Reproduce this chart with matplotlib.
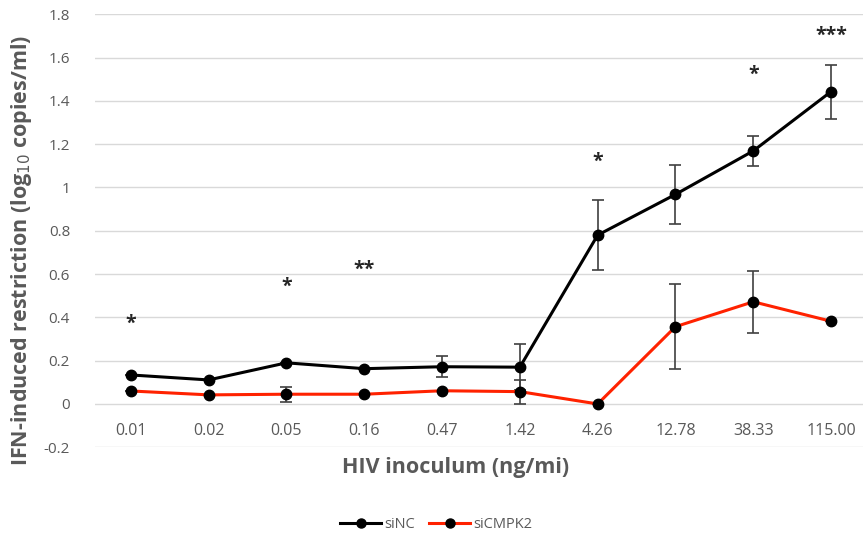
import matplotlib
matplotlib.use("Agg")
import matplotlib.pyplot as plt
from matplotlib.lines import Line2D

plt.rcParams['font.family'] = ['Open Sans', 'DejaVu Sans']

# HIV inoculum categories (ng/ml)
doses = ["0.01", "0.02", "0.05", "0.16", "0.47", "1.42", "4.26", "12.78", "38.33", "115.00"]

# IFN-induced restriction, log10 copies/ml
sinc_mean = [0.134, 0.111, 0.19, 0.163, 0.172, 0.17, 0.78, 0.968, 1.169, 1.443]
sinc_err = [0.0, 0.0, 0.0, 0.0, 0.048, 0.107, 0.163, 0.137, 0.07, 0.125]
sicmpk2_mean = [0.06, 0.042, 0.045, 0.045, 0.061, 0.057, 0.0, 0.357, 0.472, 0.382]
sicmpk2_err = [0.0, 0.0, 0.035, 0.0, 0.0, 0.055, 0.0, 0.197, 0.142, 0.0]

# significance marks and their heights
sig_idx = [0, 2, 3, 6, 8, 9]
sig_txt = ["*", "*", "**", "*", "*", "***"]
sig_y = [0.37, 0.54, 0.62, 1.12, 1.52, 1.70]

fig = plt.figure(figsize=(8.63, 5.39), dpi=100)
ax = fig.add_axes([95 / 863, 0.1702, 1 - 95 / 863, 0.8033])

x = list(range(len(doses)))
grid_c = "#d9d9d9"
txt_c = "#595959"

ax.set_ylim(-0.2, 1.8)
ax.set_xlim(-0.46, 9.41)
ax.set_yticks([-0.2, 0, 0.2, 0.4, 0.6, 0.8, 1.0, 1.2, 1.4, 1.6, 1.8])
ax.set_yticklabels(["-0.2", "0", "0.2", "0.4", "0.6", "0.8", "1", "1.2", "1.4", "1.6", "1.8"])
ax.grid(axis="y", color=grid_c, linewidth=1.0)
ax.set_axisbelow(True)
for s in ax.spines.values():
    s.set_visible(False)
ax.tick_params(axis="y", length=0, pad=18, labelsize=11, labelcolor=txt_c)
ax.tick_params(axis="x", length=0, labelbottom=False)
ax.set_xticks([])

for i, lab in enumerate(doses):
    ax.text(i, -0.127, lab, ha="center", va="center", fontsize=11.5, color=txt_c)

ax.errorbar(x, sinc_mean, yerr=sinc_err, fmt="none", ecolor="#404040",
            elinewidth=1.2, capsize=4, capthick=1.2, zorder=2)
ax.errorbar(x, sicmpk2_mean, yerr=sicmpk2_err, fmt="none", ecolor="#404040",
            elinewidth=1.2, capsize=4, capthick=1.2, zorder=2)
ax.plot(x, sicmpk2_mean, color="#ff2200", linewidth=2.2, marker="o",
        markersize=7.5, markerfacecolor="black", markeredgecolor="black", zorder=3)
ax.plot(x, sinc_mean, color="black", linewidth=2.2, marker="o",
        markersize=7.5, markerfacecolor="black", markeredgecolor="black", zorder=4)

for i, t, y in zip(sig_idx, sig_txt, sig_y):
    ax.text(i, y, t, ha="center", va="center", fontsize=14, fontweight="bold", color="#262626")

fig.text(22 / 863, 1 - 250 / 539, "IFN-induced restriction (log$_{10}$ copies/ml)",
         rotation=90, ha="center", va="center", fontsize=15.5, fontweight="bold", color=txt_c)
fig.text(456 / 863, 1 - 467 / 539, "HIV inoculum (ng/mi)", ha="center", va="center",
         fontsize=15.5, fontweight="bold", color=txt_c)

handles = [
    Line2D([], [], color="black", linewidth=2.2, marker="o", markersize=6.5,
           markerfacecolor="black", markeredgecolor="black"),
    Line2D([], [], color="#ff2200", linewidth=2.2, marker="o", markersize=6.5,
           markerfacecolor="black", markeredgecolor="black"),
]
fig.legend(handles, ["siNC", "siCMPK2"], loc="center", bbox_to_anchor=(436 / 863, 1 - 525 / 539),
           ncol=2, frameon=False, fontsize=10.5, labelcolor=txt_c, handlelength=2.8,
           handletextpad=0.2, columnspacing=1.0)

fig.savefig("out.png", dpi=100)
